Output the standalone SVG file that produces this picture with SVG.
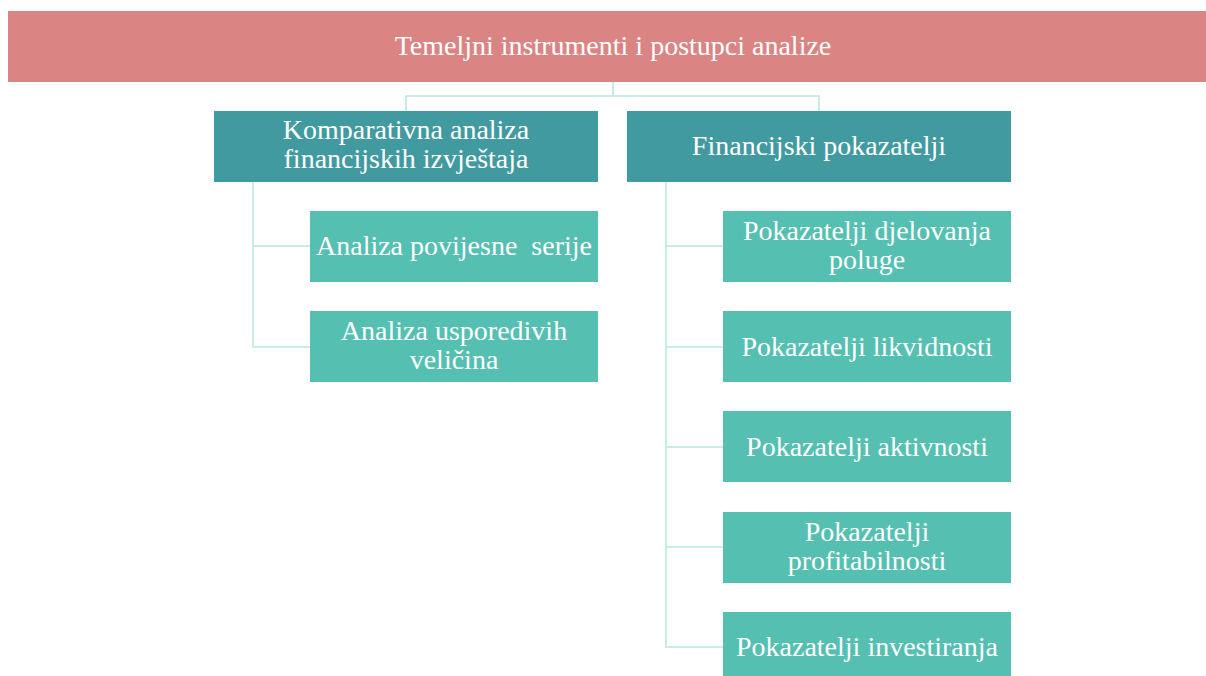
<svg xmlns="http://www.w3.org/2000/svg" width="1206" height="676" viewBox="0 0 1206 676">
<style>
.t{font-family:"Liberation Serif","Times New Roman",serif;font-size:28px;fill:#fff;text-anchor:middle}
.top{fill:#DA8583}
.l2{fill:#429AA1}
.l3{fill:#55C0B1}
.c{stroke:#C9ECE4;stroke-width:2;fill:none}
</style>
<rect width="1206" height="676" fill="#fff"/>
<g id="connectors">
<path class="c" d="M613 82V96M406 111V96H819V111"/>
<path class="c" d="M253 182V347H310M253 246H310"/>
<path class="c" d="M666 182V647H723M666 246H723M666 347H723M666 447H723M666 547H723"/>
</g>
<g id="root"><rect class="top" x="8" y="11" width="1198" height="71"/><text class="t" x="613" y="55">Temeljni instrumenti i postupci analize</text></g>
<g id="komparativna"><rect class="l2" x="214" y="111" width="384" height="71"/><text class="t" x="406" y="139">Komparativna analiza</text><text class="t" x="406" y="168">financijskih izvještaja</text></g>
<g id="financijski"><rect class="l2" x="627" y="111" width="384" height="71"/><text class="t" x="819" y="155">Financijski pokazatelji</text></g>
<g id="povijesne"><rect class="l3" x="310" y="211" width="288" height="71"/><text class="t" x="454" y="255" style="white-space:pre">Analiza povijesne  serije</text></g>
<g id="usporedivih"><rect class="l3" x="310" y="311" width="288" height="71"/><text class="t" x="454" y="340">Analiza usporedivih</text><text class="t" x="454" y="369">veličina</text></g>
<g id="djelovanja"><rect class="l3" x="723" y="211" width="288" height="71"/><text class="t" x="867" y="240">Pokazatelji djelovanja</text><text class="t" x="867" y="269">poluge</text></g>
<g id="likvidnosti"><rect class="l3" x="723" y="311" width="288" height="71"/><text class="t" x="867" y="356">Pokazatelji likvidnosti</text></g>
<g id="aktivnosti"><rect class="l3" x="723" y="411" width="288" height="71"/><text class="t" x="867" y="456">Pokazatelji aktivnosti</text></g>
<g id="profitabilnosti"><rect class="l3" x="723" y="512" width="288" height="71"/><text class="t" x="867" y="541">Pokazatelji</text><text class="t" x="867" y="570">profitabilnosti</text></g>
<g id="investiranja"><rect class="l3" x="723" y="612" width="288" height="64"/><text class="t" x="867" y="656">Pokazatelji investiranja</text></g>
</svg>
